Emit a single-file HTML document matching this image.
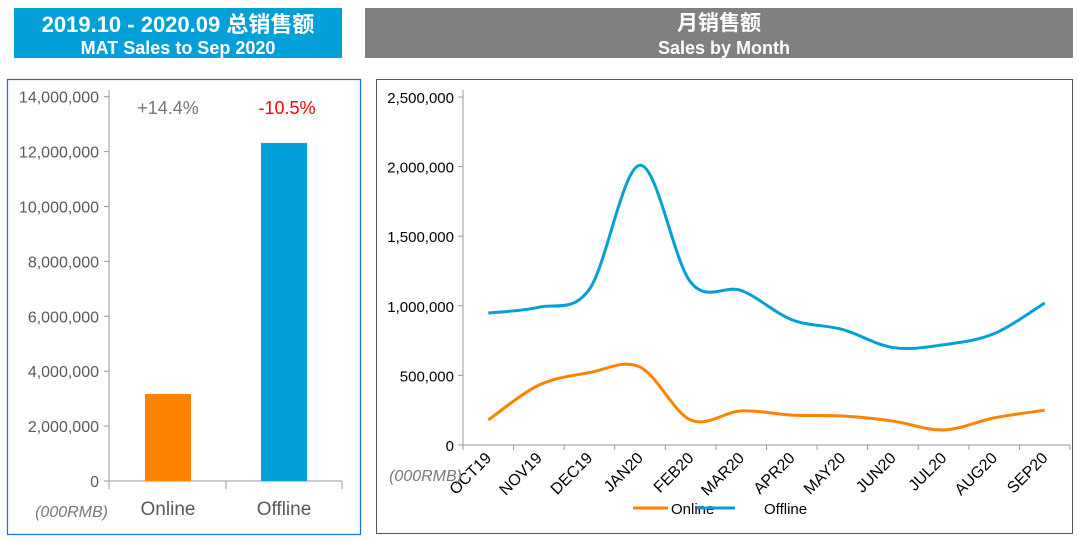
<!DOCTYPE html>
<html><head><meta charset="utf-8"><style>
body{margin:0;width:1078px;height:540px;background:#fff;overflow:hidden;font-family:"Liberation Sans","Noto Sans CJK SC",sans-serif}
svg{position:absolute;left:0;top:0}
</style></head><body>
<svg width="1078" height="540" xmlns="http://www.w3.org/2000/svg" font-family="Liberation Sans, Noto Sans CJK SC, sans-serif">
<rect x="14" y="8" width="328" height="50" fill="#039fd9"/>
<text x="178" y="32" fill="#fff" font-size="22" font-weight="bold" text-anchor="middle">2019.10 - 2020.09 总销售额</text>
<text x="178" y="54" fill="#fff" font-size="18" font-weight="bold" text-anchor="middle">MAT Sales to Sep 2020</text>
<rect x="365" y="8" width="708" height="50" fill="#808080"/>
<text x="719" y="30" fill="#fff" font-size="21" font-weight="bold" text-anchor="middle">月销售额</text>
<text x="724" y="54" fill="#fff" font-size="18" font-weight="bold" text-anchor="middle">Sales by Month</text>
<rect x="7.5" y="79.5" width="353" height="455" fill="none" stroke="#1a6cf0" stroke-width="1.2"/>
<rect x="376.5" y="79.5" width="696" height="454" fill="none" stroke="#555" stroke-width="1"/>
<g id="left" font-size="16" fill="#595959" text-anchor="end"></g>
<rect x="145" y="394" width="46" height="87" fill="#ff8200"/>
<rect x="261" y="143" width="46" height="338" fill="#039fd9"/>
<text x="168" y="114" font-size="18" fill="#777" text-anchor="middle">+14.4%</text>
<text x="287" y="114" font-size="18" fill="#f00" text-anchor="middle">-10.5%</text>
<text x="168" y="515" font-size="19" fill="#595959" text-anchor="middle">Online</text>
<text x="284" y="515" font-size="19" fill="#595959" text-anchor="middle">Offline</text>
<text x="108" y="517" font-size="16" fill="#777" font-style="italic" text-anchor="end">(000RMB)</text>
<g id="right" font-size="15" fill="#000"></g>
<text x="462" y="481" font-size="16" fill="#777" font-style="italic" text-anchor="end">(000RMB)</text>
<path id="off" fill="none" stroke="#039fd9" stroke-width="3"/>
<path id="on" fill="none" stroke="#ff8200" stroke-width="3"/>
<line x1="633" y1="508" x2="668" y2="508" stroke="#ff8200" stroke-width="3"/>
<text x="671" y="514" font-size="15">Online</text>
<line x1="697" y1="508" x2="735" y2="508" stroke="#039fd9" stroke-width="3"/>
<text x="764" y="514" font-size="15">Offline</text>
</svg>
<script>
var ns="http://www.w3.org/2000/svg";
function el(p,t,a,txt){var e=document.createElementNS(ns,t);for(var k in a)e.setAttribute(k,a[k]);if(txt)e.textContent=txt;p.appendChild(e);return e;}
var L=document.getElementById("left");
el(L,"line",{x1:109,y1:90,x2:109,y2:489,stroke:"#999"});
el(L,"line",{x1:109,y1:481,x2:342,y2:481,stroke:"#999"});
[226,342].forEach(function(x){el(L,"line",{x1:x,y1:481,x2:x,y2:489,stroke:"#999"});});
for(var i=0;i<=7;i++){var y=481-i*54.9;el(L,"line",{x1:104,y1:y,x2:109,y2:y,stroke:"#999"});
el(L,"text",{x:99,y:y+6},i==0?"0":(i*2000000).toLocaleString("en-US"));}
var R=document.getElementById("right");
el(R,"line",{x1:463,y1:90,x2:463,y2:445,stroke:"#999"});
el(R,"line",{x1:458,y1:445,x2:1070,y2:445,stroke:"#999"});
for(var i=0;i<=5;i++){var y=445-i*69.6;el(R,"line",{x1:458,y1:y,x2:463,y2:y,stroke:"#999"});
el(R,"text",{x:454,y:y+6,"text-anchor":"end"},i==0?"0":(i*500000).toLocaleString("en-US"));}
var m=["OCT19","NOV19","DEC19","JAN20","FEB20","MAR20","APR20","MAY20","JUN20","JUL20","AUG20","SEP20"];
var w=(1070-463)/12;
for(var i=0;i<=12;i++){el(R,"line",{x1:463+i*w,y1:445,x2:463+i*w,y2:450,stroke:"#999"});}
m.forEach(function(t,i){var x=463+w*(i+0.5)+4,y=459;el(R,"text",{x:x,y:y,"font-size":16,"text-anchor":"end",transform:"rotate(-45 "+x+" "+y+")"},t);});
function path(d){var p=d.map(function(v,i){return[463+w*(i+0.5),445-v*139.2];});
var s="M"+p[0][0]+","+p[0][1];
for(var i=0;i<p.length-1;i++){var p0=p[i-1]||p[i],p1=p[i],p2=p[i+1],p3=p[i+2]||p2;
s+=" C"+(p1[0]+(p2[0]-p0[0])/6)+","+(p1[1]+(p2[1]-p0[1])/6)+" "+(p2[0]-(p3[0]-p1[0])/6)+","+(p2[1]-(p3[1]-p1[1])/6)+" "+p2[0]+","+p2[1];}
return s;}
document.getElementById("off").setAttribute("d",path([0.948,0.99,1.12,2.01,1.17,1.11,0.9,0.83,0.70,0.72,0.80,1.02]));
document.getElementById("on").setAttribute("d",path([0.18,0.43,0.52,0.56,0.18,0.245,0.215,0.208,0.172,0.108,0.195,0.25]));
</script>
</body></html>
